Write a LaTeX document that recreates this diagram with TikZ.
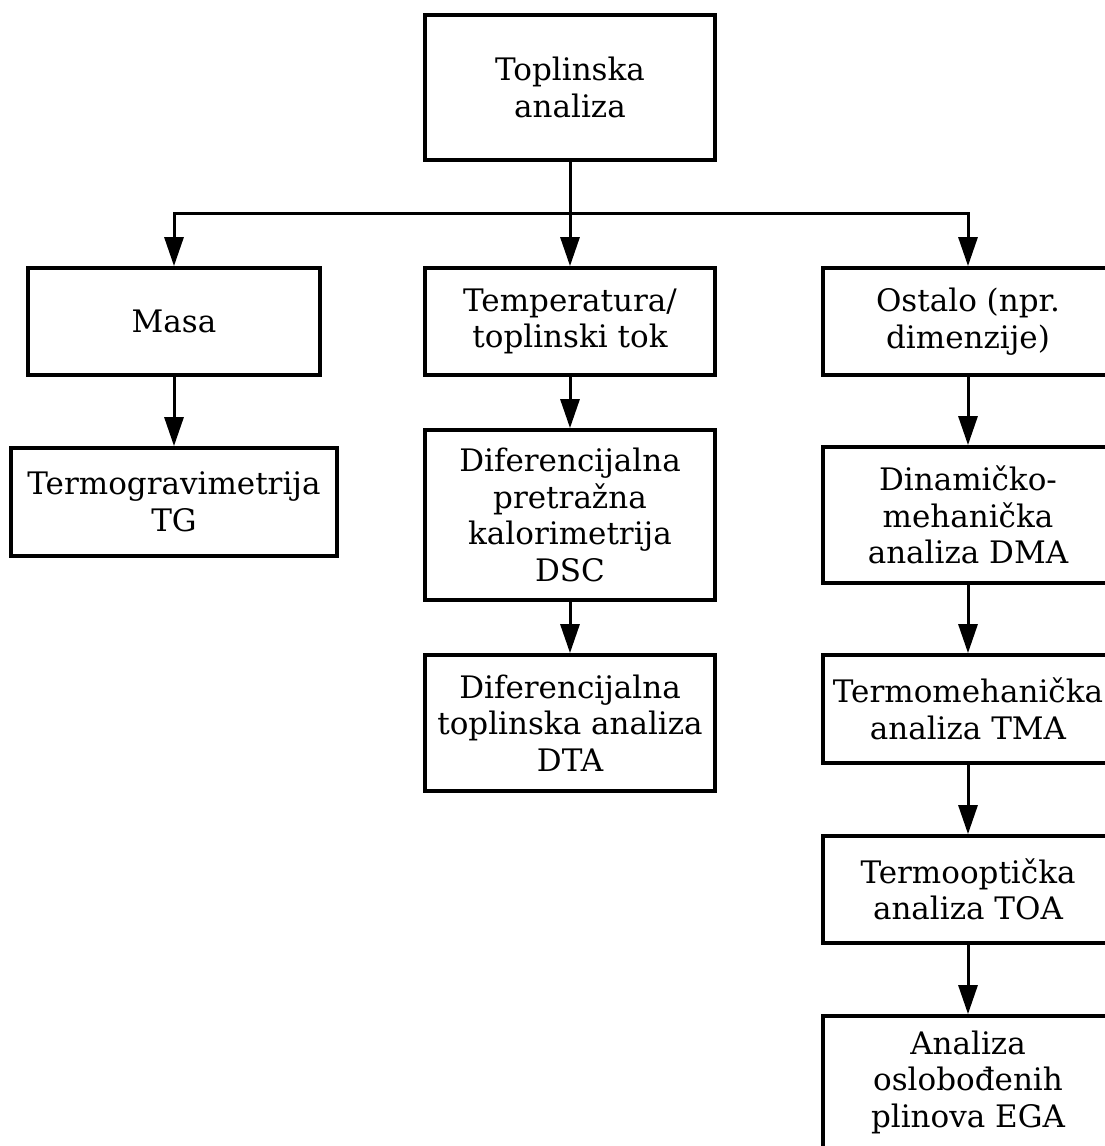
\documentclass[tikz,border=0pt]{standalone}
\usepackage{fontspec}
\setmainfont{DejaVu Serif}
\usetikzlibrary{arrows.meta}

\begin{document}
\begin{tikzpicture}[x=1pt,y=-1pt,every node/.style={draw, line width=3.8pt, align=center, shape=rectangle, inner sep=0pt, minimum width=290pt, font=\fontsize{31}{36.5}\selectfont}, arr/.style={line width=3pt, -{Triangle[width=19pt,length=29pt]}}]
\useasboundingbox (0,0) rectangle (1104,1146);
\node(top) at (570,87.5) [minimum height=145pt] {Toplinska\\analiza};
\node(masa) at (174,321.5) [minimum width=292pt, minimum height=107pt] {Masa};
\node(temp) at (570,321.5) [minimum height=107pt] {Temperatura/\\toplinski tok};
\node(ostalo) at (968,321.5) [minimum height=107pt] {Ostalo (npr.\\dimenzije)};
\node(tg) at (174,502) [minimum width=326pt, minimum height=108pt] {Termogravimetrija\\TG};
\node(dsc) at (570,515) [minimum height=170pt] {Diferencijalna\\pretražna\\kalorimetrija\\DSC};
\node(dta) at (570,723) [minimum height=136pt] {Diferencijalna\\toplinska analiza\\DTA};
\node(dma) at (968,515) [minimum height=136pt] {Dinamičko-\\mehanička\\analiza DMA};
\node(tma) at (968,709) [minimum height=108pt] {Termomehanička\\analiza TMA};
\node(toa) at (968,889.5) [minimum height=107pt] {Termooptička\\analiza TOA};
\node(ega) at (968,1082) [minimum height=132pt] {Analiza\\oslobođenih\\plinova EGA};
\coordinate (bus) at (570,213);
\draw[line width=3pt] (top.south) -- (bus);
\draw[arr] (bus) -| (masa.north);
\draw[arr] (bus) -- (temp.north);
\draw[arr] (bus) -| (ostalo.north);
\draw[arr] (masa) -- (tg);
\draw[arr] (temp) -- (dsc);
\draw[arr] (dsc) -- (dta);
\draw[arr] (ostalo) -- (dma);
\draw[arr] (dma) -- (tma);
\draw[arr] (tma) -- (toa);
\draw[arr] (toa) -- (ega);
\end{tikzpicture}
\end{document}
